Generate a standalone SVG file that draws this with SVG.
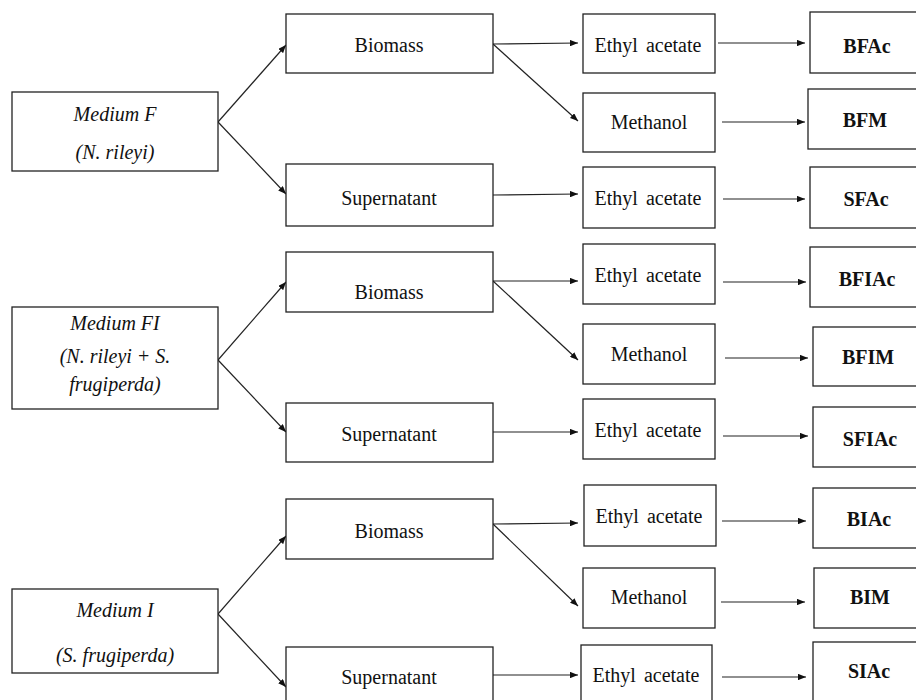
<svg xmlns="http://www.w3.org/2000/svg" width="916" height="700" viewBox="0 0 916 700">
<defs>
<marker id="ah" viewBox="0 0 10 8" refX="10" refY="4" markerWidth="8" markerHeight="6.4" markerUnits="userSpaceOnUse" orient="auto">
<path d="M0,0 L10,4 L0,8 z" fill="#111"/>
</marker>
<style>
rect{fill:#fff;stroke:#222;stroke-width:1.3}
text{font-family:"Liberation Serif","Times New Roman",serif;font-size:20px;fill:#111;text-anchor:middle}
.it{font-style:italic}
.b{font-weight:bold}
#connectors line{stroke:#222;stroke-width:1.2;marker-end:url(#ah)}
</style>
</defs>
<rect x="0" y="0" width="916" height="700" style="fill:#fff;stroke:none"/>
<g id="connectors">
<line x1="218" y1="122" x2="286" y2="45"/>
<line x1="218" y1="122" x2="286" y2="194"/>
<line x1="493" y1="44" x2="578" y2="43"/>
<line x1="493" y1="44" x2="578" y2="121"/>
<line x1="493" y1="195" x2="578" y2="194"/>
<line x1="718" y1="43" x2="805" y2="43"/>
<line x1="722" y1="122" x2="805" y2="122"/>
<line x1="723" y1="199" x2="805" y2="199"/>
<line x1="218" y1="360" x2="286" y2="282"/>
<line x1="218" y1="360" x2="286" y2="432"/>
<line x1="493" y1="281" x2="578" y2="281"/>
<line x1="493" y1="281" x2="578" y2="360"/>
<line x1="493" y1="432" x2="578" y2="432"/>
<line x1="723" y1="282" x2="806" y2="282"/>
<line x1="725" y1="358" x2="808" y2="358"/>
<line x1="723" y1="436" x2="808" y2="436"/>
<line x1="218" y1="614" x2="286" y2="536"/>
<line x1="218" y1="614" x2="286" y2="687"/>
<line x1="493" y1="524" x2="578" y2="523"/>
<line x1="493" y1="524" x2="578" y2="606"/>
<line x1="493" y1="675" x2="578" y2="675"/>
<line x1="722" y1="521" x2="806" y2="521"/>
<line x1="721" y1="602" x2="805" y2="602"/>
<line x1="722" y1="677" x2="806" y2="677"/>
</g>
<g id="mediumF"><rect x="12" y="92" width="206" height="79"/><text class="it" x="115" y="121">Medium F</text><text class="it" x="115" y="159">(N. rileyi)</text></g>
<g id="biomass1"><rect x="286" y="14" width="207" height="59"/><text x="389" y="52">Biomass</text></g>
<g id="supernatant1"><rect x="286" y="164" width="207" height="62"/><text x="389" y="205">Supernatant</text></g>
<g id="ea1"><rect x="583" y="14" width="132" height="59"/><text x="648" y="52" word-spacing="3">Ethyl acetate</text></g>
<g id="methanol1"><rect x="583" y="93" width="132" height="59"/><text x="649" y="129">Methanol</text></g>
<g id="ea1s"><rect x="583" y="167" width="132" height="61"/><text x="648" y="205" word-spacing="3">Ethyl acetate</text></g>
<g id="BFAc"><rect x="810" y="12" width="120" height="61"/><text class="b" x="867" y="53">BFAc</text></g>
<g id="BFM"><rect x="808" y="89" width="120" height="60"/><text class="b" x="865" y="127">BFM</text></g>
<g id="SFAc"><rect x="810" y="167" width="120" height="61"/><text class="b" x="866" y="206">SFAc</text></g>

<g id="mediumFI"><rect x="12" y="307" width="206" height="102"/><text class="it" x="115" y="330">Medium FI</text><text class="it" x="115" y="363">(N. rileyi + S.</text><text class="it" x="115" y="391">frugiperda)</text></g>
<g id="biomass2"><rect x="286" y="252" width="207" height="60"/><text x="389" y="299">Biomass</text></g>
<g id="supernatant2"><rect x="286" y="403" width="207" height="59"/><text x="389" y="441">Supernatant</text></g>
<g id="ea2"><rect x="583" y="244" width="132" height="60"/><text x="648" y="282" word-spacing="3">Ethyl acetate</text></g>
<g id="methanol2"><rect x="583" y="324" width="132" height="60"/><text x="649" y="361">Methanol</text></g>
<g id="ea2s"><rect x="583" y="399" width="132" height="60"/><text x="648" y="437" word-spacing="3">Ethyl acetate</text></g>
<g id="BFIAc"><rect x="810" y="247" width="120" height="60"/><text class="b" x="867" y="286">BFIAc</text></g>
<g id="BFIM"><rect x="813" y="327" width="120" height="59"/><text class="b" x="868" y="364">BFIM</text></g>
<g id="SFIAc"><rect x="813" y="407" width="120" height="60"/><text class="b" x="870" y="446">SFIAc</text></g>

<g id="mediumI"><rect x="12" y="589" width="206" height="84"/><text class="it" x="115" y="617">Medium I</text><text class="it" x="115" y="662">(S. frugiperda)</text></g>
<g id="biomass3"><rect x="286" y="499" width="207" height="60"/><text x="389" y="538">Biomass</text></g>
<g id="supernatant3"><rect x="286" y="647" width="207" height="70"/><text x="389" y="684">Supernatant</text></g>
<g id="ea3"><rect x="584" y="485" width="132" height="61"/><text x="649" y="523" word-spacing="3">Ethyl acetate</text></g>
<g id="methanol3"><rect x="583" y="568" width="132" height="60"/><text x="649" y="604">Methanol</text></g>
<g id="ea3s"><rect x="581" y="645" width="131" height="70"/><text x="646" y="682" word-spacing="3">Ethyl acetate</text></g>
<g id="BIAc"><rect x="813" y="488" width="120" height="60"/><text class="b" x="869" y="526">BIAc</text></g>
<g id="BIM"><rect x="814" y="568" width="120" height="60"/><text class="b" x="870" y="604">BIM</text></g>
<g id="SIAc"><rect x="813" y="642" width="120" height="70"/><text class="b" x="869" y="678">SIAc</text></g>
</svg>
